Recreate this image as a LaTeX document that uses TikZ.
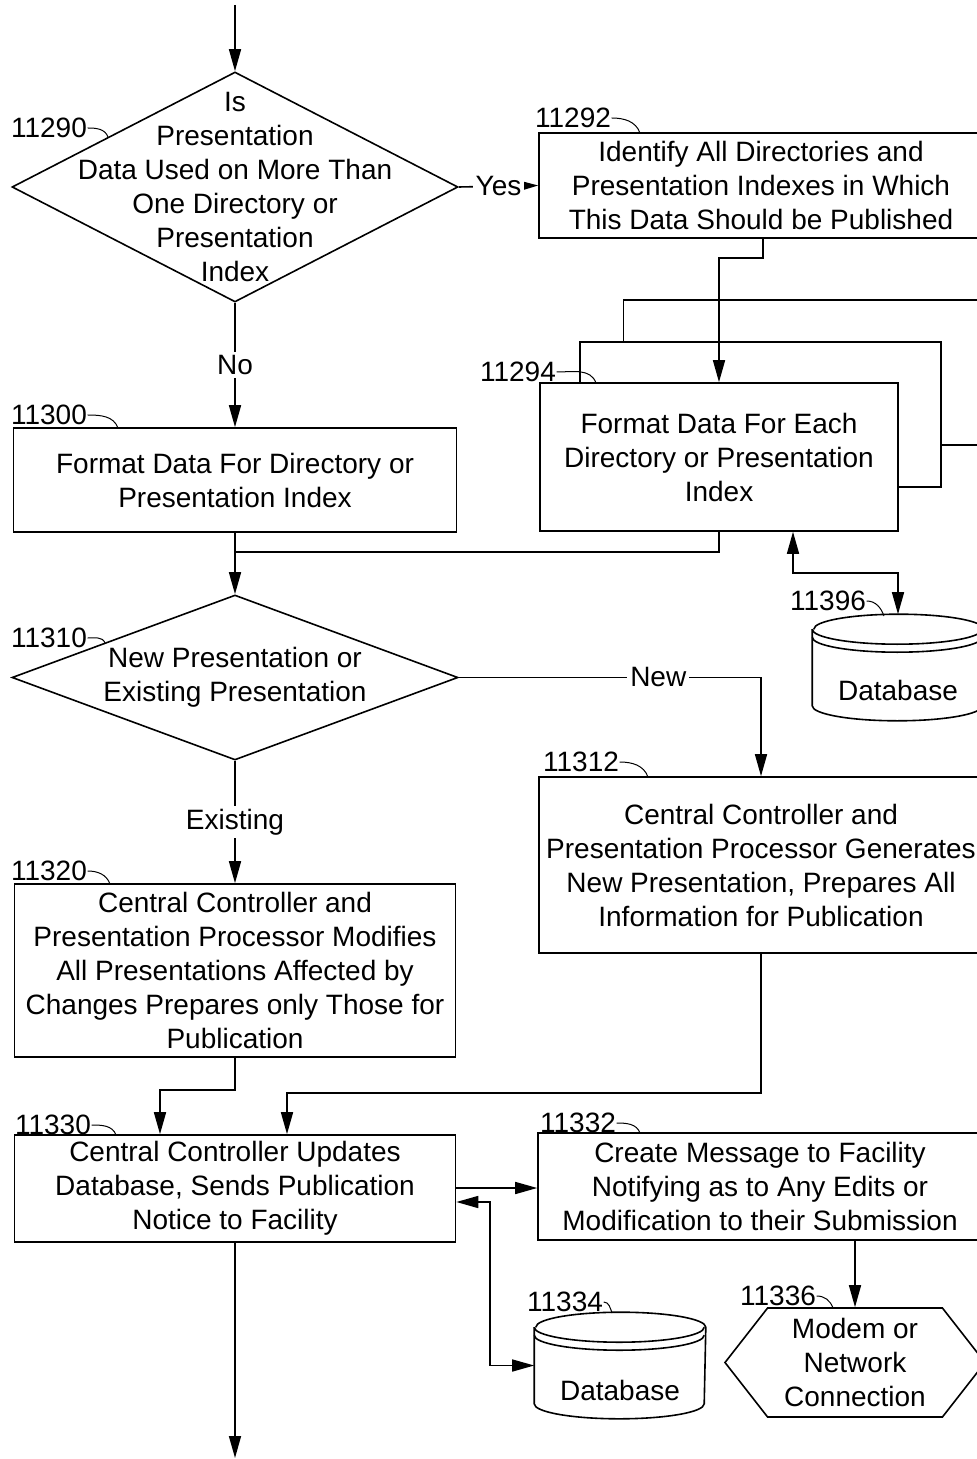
\documentclass[tikz,border=0pt]{standalone}
\usepackage{fontspec}
\setmainfont{Liberation Sans}
\usetikzlibrary{arrows}
\usetikzlibrary{arrows.meta}
\usetikzlibrary{shapes}

\begin{document}
\begin{tikzpicture}[x = 0.5pt, y = -0.5pt, line width = 0.8pt, font = \fontsize{14}{17}\selectfont]
	\tikzstyle{boxStyle} = [draw, fill = white, align = center, inner sep = 0pt]
	\tikzstyle{decisionStyle} = [shape = diamond, draw, inner sep = 0pt]
	\tikzstyle{textStyle} = [align = center, inner sep = 0pt]
	\tikzstyle{dataStyle} = [inner sep = 0pt, minimum width = 85pt, minimum height = 52.5pt]
	\tikzstyle{rimStyle} = [x radius = 42.5pt, y radius = 7.5pt]
	\tikzstyle{linkStyle} = [shape = signal, signal to = west and east, signal pointer angle = 104, draw, align = center, inner sep = 0pt]
	\tikzstyle{numberStyle} = [inner sep = 0pt]
	\tikzstyle{tickStyle} = [line width = 0.5pt]
	\tikzstyle{arrowStyle} = [-{Triangle[length = 11pt, width = 6pt]}]
	\tikzstyle{bothStyle} = [{Triangle[length = 11pt, width = 6pt]}-{Triangle[length = 11pt, width = 6pt]}]
	\tikzstyle{answerStyle} = [fill = white, inner sep = 1.5pt]
	\useasboundingbox (0,0) rectangle (977,1459);

	% decisions
	\node[decisionStyle, minimum width = 223pt, minimum height = 115pt] (d11290) at (235,187) {};
	\node[textStyle] (t11290) at (235,187) {Is\\Presentation\\Data Used on More Than\\One Directory or\\Presentation\\Index};
	\node[decisionStyle, minimum width = 223pt, minimum height = 82.5pt] (d11310) at (235,677.5) {};
	\node[textStyle] (t11310) at (235,677) {New Presentation or\\Existing Presentation};

	% process boxes
	\node[boxStyle, minimum width = 222pt, minimum height = 52.5pt] (b11292) at (761,185.5) {Identify All Directories and\\Presentation Indexes in Which\\This Data Should be Published};
	\node[boxStyle, minimum width = 179.5pt, minimum height = 72.5pt] (b11294c) at (803,372.5) {};
	\node[boxStyle, minimum width = 180.5pt, minimum height = 72.5pt] (b11294b) at (760.5,414.5) {};
	\node[boxStyle, minimum width = 179pt, minimum height = 74pt] (b11294) at (719,457) {Format Data For Each\\Directory or Presentation\\Index};
	\node[boxStyle, minimum width = 221.5pt, minimum height = 52pt] (b11300) at (235,480) {Format Data For Directory or\\Presentation Index};
	\node[boxStyle, minimum width = 222pt, minimum height = 88pt] (b11312) at (761,865) {Central Controller and\\Presentation Processor Generates\\New Presentation, Prepares All\\Information for Publication};
	\node[boxStyle, minimum width = 220.5pt, minimum height = 86.5pt] (b11320) at (235,970.5) {Central Controller and\\Presentation Processor Modifies\\All Presentations Affected by\\Changes Prepares only Those for\\Publication};
	\node[boxStyle, minimum width = 220.5pt, minimum height = 53.5pt] (b11330) at (235,1188.5) {Central Controller Updates\\Database, Sends Publication\\Notice to Facility};
	\node[boxStyle, minimum width = 222pt, minimum height = 53.5pt] (b11332) at (760,1186.5) {Create Message to Facility\\Notifying as to Any Edits or\\Modification to their Submission};

	% databases and link
	\node[dataStyle] (db11396) at (898,667.5) {};
	\draw[fill = white] ([yshift = -7.5pt]db11396.north west) -- ([yshift = 7.5pt]db11396.south west) arc[start angle = 180, end angle = 360, rimStyle] -- ([yshift = -7.5pt]db11396.north east) arc[start angle = 0, end angle = 180, rimStyle];
	\draw ([yshift = -7.5pt]db11396.north west) arc[start angle = 180, end angle = 360, rimStyle];
	\draw ([yshift = -11.5pt]db11396.north west) arc[start angle = 180, end angle = 360, rimStyle];
	\node[textStyle] (t11396) at (898,690) {Database};
	\node[dataStyle] (db11334) at (620,1365.5) {};
	\draw[fill = white] ([yshift = -7.5pt]db11334.north west) -- ([yshift = 7.5pt]db11334.south west) arc[start angle = 180, end angle = 360, rimStyle] -- ([yshift = -7.5pt]db11334.north east) arc[start angle = 0, end angle = 180, rimStyle];
	\draw ([yshift = -7.5pt]db11334.north west) arc[start angle = 180, end angle = 360, rimStyle];
	\draw ([yshift = -11.5pt]db11334.north west) arc[start angle = 180, end angle = 360, rimStyle];
	\node[textStyle] (t11334) at (620,1390) {Database};
	\node[linkStyle, minimum width = 130pt, minimum height = 54.5pt] (n11336) at (855,1362.5) {Modem or\\Network\\Connection};

	% reference numbers
	\node[numberStyle] (l11290) at (49,128) {11290};
	\node[numberStyle] (l11292) at (573,118) {11292};
	\node[numberStyle] (l11294) at (518,372) {11294};
	\node[numberStyle] (l11300) at (49,415) {11300};
	\node[numberStyle] (l11310) at (49,638) {11310};
	\node[numberStyle] (l11396) at (828,601) {11396};
	\node[numberStyle] (l11312) at (581,762) {11312};
	\node[numberStyle] (l11320) at (49,871) {11320};
	\node[numberStyle] (l11330) at (53,1125) {11330};
	\node[numberStyle] (l11332) at (578,1123) {11332};
	\node[numberStyle] (l11334) at (565,1302) {11334};
	\node[numberStyle] (l11336) at (778,1296) {11336};
	\draw[tickStyle] (l11290.east) to[out = 0, in = 110] (108,137);
	\draw[tickStyle] (l11292.east) to[out = 0, in = 110] (640,133);
	\draw[tickStyle] (l11294.east) to[out = 0, in = 110] (596,383);
	\draw[tickStyle] (l11300.east) to[out = 0, in = 110] (118,428);
	\draw[tickStyle] (l11310.east) to[out = 0, in = 110] (105,643);
	\draw[tickStyle] (l11396.east) to[out = 0, in = 110] (884,616);
	\draw[tickStyle] (l11312.east) to[out = 0, in = 110] (648,777);
	\draw[tickStyle] (l11320.east) to[out = 0, in = 110] (110,884);
	\draw[tickStyle] (l11330.east) to[out = 0, in = 110] (116,1135);
	\draw[tickStyle] (l11332.east) to[out = 0, in = 110] (640,1133);
	\draw[tickStyle] (l11334.east) to[out = 0, in = 110] (612,1313);
	\draw[tickStyle] (l11336.east) to[out = 0, in = 110] (833,1308);

	% connectors
	\coordinate (start) at (235,5);
	\coordinate (join) at (235,552);
	\coordinate (finish) at (235,1458);
	\draw[arrowStyle] (start) -- (d11290.north);
	\draw[arrowStyle] (d11290.east) -- node[answerStyle] {Yes} (b11292.west);
	\draw[arrowStyle] (d11290.south) -- node[answerStyle] {No} (b11300.north);
	\draw[arrowStyle] (b11292.south -| 763,0) -- (763,258) -| (b11294.north);
	\draw (b11294.south) |- (join);
	\draw[arrowStyle] (b11300.south) -- (join) -- (d11310.north);
	\draw[bothStyle] (b11294.south -| 793,0) -- (793,573) -| (db11396.north);
	\draw[arrowStyle] (d11310.east) -- node[answerStyle, pos = 0.66] {New} (761,677.5) -- (b11312.north);
	\draw[arrowStyle] (d11310.south) -- node[answerStyle] {Existing} (b11320.north);
	\draw[arrowStyle] (b11320.south) |- (160,1090) -- (b11330.north -| 160,0);
	\draw[arrowStyle] (b11312.south) |- (287,1093) -- (b11330.north -| 287,0);
	\draw[arrowStyle] (b11330.east |- 0,1188) -- (b11332.west |- 0,1188);
	\draw[bothStyle] (b11330.east |- 0,1202) -- (490,1202) |- (db11334.west);
	\draw[arrowStyle] (b11332.south -| n11336.north) -- (n11336.north);
	\draw[arrowStyle] (b11330.south) -- (finish);
\end{tikzpicture}
\end{document}
